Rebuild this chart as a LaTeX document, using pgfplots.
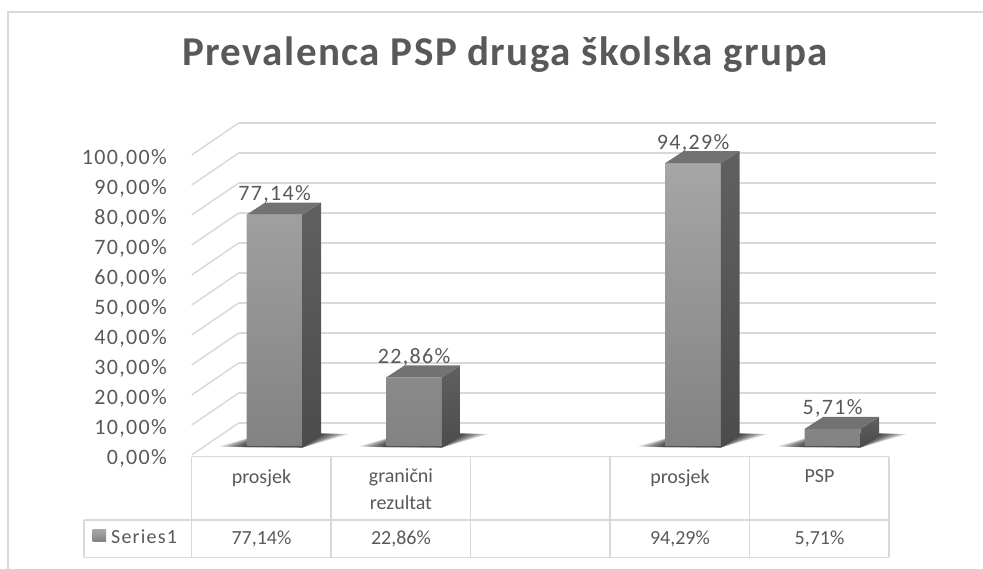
\documentclass[border=0pt]{standalone}
\usepackage{pgfplots}
\pgfplotsset{compat=1.18}
\usepackage{pgfplotstable}
\usepackage{fontspec}
\setmainfont{Carlito}

\definecolor{txt}{HTML}{595959}
\definecolor{gridc}{HTML}{D9D9D9}
\definecolor{faceTop}{HTML}{A6A6A6}
\definecolor{faceBot}{HTML}{828282}
\definecolor{sideTop}{HTML}{606060}
\definecolor{sideBot}{HTML}{4C4C4C}
\definecolor{capc}{HTML}{727272}

% share of pupils per group (in %)
\pgfplotstableread{
idx val
0   77.14
1   22.86
3   94.29
4   5.71
}\prevalence

% an empty marker: the 3-D faces are drawn by the scatter code
\pgfdeclareplotmark{none3d}{}

\newcommand{\pct}[1]{\pgfmathprintnumber[fixed,fixed zerofill,precision=2,use comma,assume math mode=true]{#1}\%}

\pgfplotsset{
  chartgrid/.style={
    x=139.5pt, y=3pt, xmin=-0.5, xmax=4.5, ymin=0, ymax=100,
    clip=false, axis line style={draw=none}, major tick length=0pt,
  },
}

\begin{document}
\begin{tikzpicture}[x=1pt,y=1pt]
\useasboundingbox (0,0) rectangle (983,569);
% chart frame
\draw[gridc, line width=2.5pt] (8,0) -- (8,557) -- (983,557);

% back wall with its gridlines
\begin{axis}[chartgrid, at={(238.7pt,146pt)}, anchor=south west,
  xtick=\empty, ytick={0,10,...,100}, yticklabels={,,,,,,,,,,,},
  ymajorgrids, grid style={gridc, line width=1.5pt}]
  \addplot[draw=none] coordinates {(0,0)};
\end{axis}

% front plane: value axis, categories and side wall
\begin{axis}[chartgrid, at={(191.7pt,114pt)}, anchor=south west,
  ytick={0,10,...,100},
  yticklabel={\pct{\tick}},
  yticklabel style={anchor=east, inner sep=0pt, xshift=-24.7pt, yshift=-3pt,
    font=\fontsize{22}{26}\selectfont\addfontfeatures{LetterSpace=6}, text=txt},
  xtick={0,...,4},
  xticklabels={prosjek, {granični\\rezultat}, {}, prosjek, PSP},
  xticklabel style={anchor=north, align=center, inner sep=0pt, yshift=-14pt,
    font=\fontsize{20}{27}\selectfont, text=txt},
  title={Prevalenca PSP druga školska grupa},
  title style={at={(axis description cs:0.449,1.2777)}, anchor=base, inner sep=0pt,
    font=\fontsize{41}{46}\selectfont\bfseries\addfontfeatures{LetterSpace=3.5}, text=txt},
]
  \pgfplotsinvokeforeach{0,10,...,100}{
    \draw[gridc, line width=1.5pt] (axis cs:-0.5,#1) -- ++(47pt,32pt);
  }
  % value row of the data table
  \addplot[draw=none, mark=none, point meta=explicit,
    nodes near coords={\pct{\pgfplotspointmeta}},
    nodes near coords style={anchor=base, inner sep=0pt,
      font=\fontsize{20}{24}\selectfont, text=txt}]
    table[x=idx, y expr=-30, meta=val] {\prevalence};
\end{axis}

% soft floor shadows under the columns
\begin{axis}[chartgrid, at={(204.86pt,122.96pt)}, anchor=south west,
  xtick=\empty, ytick=\empty]
  \addplot[scatter, only marks, mark=none3d, point meta=explicit,
    visualization depends on={\thisrow{val} \as \barval},
    scatter/@pre marker code/.append code={
      \pgfmathsetlengthmacro{\h}{3pt*\barval}
      \foreach \e in {28,26,...,2}{
        \fill[black, fill opacity=0.085, draw=none]
          ({-28pt-\e pt},{-\h-1.5pt+0.04*\e pt}) -- (28pt,{-\h-1.5pt})
          -- ({46.5pt+\e pt},{-\h+13pt-0.04*\e pt}) -- (-9.5pt,{-\h+13pt}) -- cycle;
      }
    }] table[x=idx, y=val, meta=val] {\prevalence};
\end{axis}

% the 3-D columns, set back into the floor
\begin{axis}[chartgrid, at={(204.86pt,122.96pt)}, anchor=south west,
  xtick=\empty, ytick=\empty]
  % front faces
  \addplot[ybar, bar width=56pt, draw=none, top color=faceTop, bottom color=faceBot]
    table[x=idx, y=val] {\prevalence};
  % side and top faces
  \addplot[scatter, only marks, mark=none3d, point meta=explicit,
    visualization depends on={\thisrow{val} \as \barval},
    scatter/@pre marker code/.append code={
      \pgfmathsetlengthmacro{\h}{3pt*\barval}
      \shade[draw=none, top color=sideTop, bottom color=sideBot]
        (27.8pt,0pt) -- (46.5pt,12pt) -- (46.5pt,{12pt-\h}) -- (27.8pt,-\h) -- cycle;
      \fill[draw=none, capc] (-28pt,0pt) -- (28pt,0pt) -- (46.5pt,12pt) -- (-9.5pt,12pt) -- cycle;
    }] table[x=idx, y=val, meta=val] {\prevalence};
  % value labels
  \addplot[draw=none, mark=none, point meta=explicit,
    nodes near coords={\pct{\pgfplotspointmeta}},
    nodes near coords style={anchor=base, inner sep=0pt, yshift=14pt,
      font=\fontsize{22}{26}\selectfont\addfontfeatures{LetterSpace=6}, text=txt}]
    table[x=idx, y=val, meta=val] {\prevalence};
\end{axis}

% data table frame
\begin{scope}[gridc, line width=1.5pt]
  \draw (191.7,112.3) -- (889.2,112.3);
  \draw (84,49) -- (889.2,49);
  \draw (84,11.7) -- (889.2,11.7);
  \draw (84,49) -- (84,11.7);
  \foreach \c in {191.7,331.2,470.7,610.2,749.7,889.2}
    \draw (\c,112.3) -- (\c,11.7);
\end{scope}
% legend key of the table
\shade[top color=faceTop, bottom color=faceBot] (92.7,27.3) rectangle (106,39);
\node[anchor=base west, inner sep=0pt, text=txt,
  font=\fontsize{20}{24}\selectfont\addfontfeatures{LetterSpace=6}] at (111,25) {Series1};
\end{tikzpicture}
\end{document}
